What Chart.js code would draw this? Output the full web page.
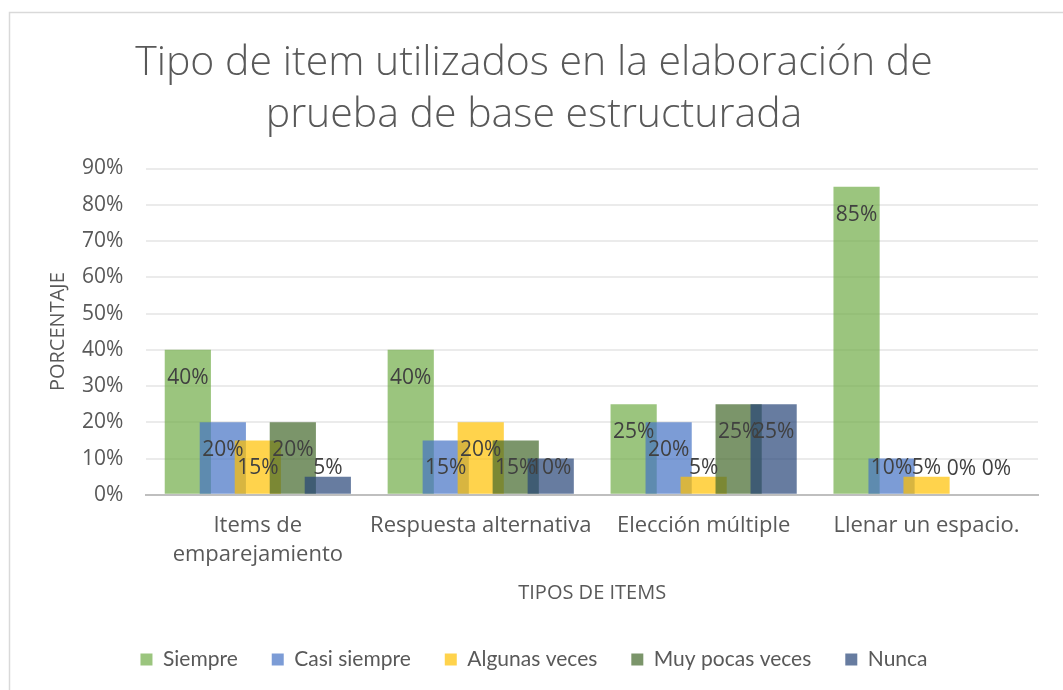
<!DOCTYPE html>
<html>
<head>
<meta charset="utf-8">
<script src="https://cdn.jsdelivr.net/npm/chart.js@4"></script>
<style>
  html, body { margin: 0; padding: 0; background: #fff; }
  #wrap { width: 1063px; height: 690px; position: relative; }
</style>
</head>
<body>
<div id="wrap"><canvas id="itemsChart"></canvas></div>
<script>
// Tipos de item (categorias del eje X)
const categories = [['Items de', 'emparejamiento'], 'Respuesta alternativa', 'Elección múltiple', 'Llenar un espacio.'];

// Porcentajes por frecuencia
const siempre = [0.40, 0.40, 0.25, 0.85];
const casiSiempre = [0.20, 0.15, 0.20, 0.10];
const algunasVeces = [0.15, 0.20, 0.05, 0.05];
const muyPocasVeces = [0.20, 0.15, 0.25, 0];
const nunca = [0.05, 0.10, 0.25, 0];

const yTicks = [0, 0.1, 0.2, 0.3, 0.4, 0.5, 0.6, 0.7, 0.8, 0.9];

const textGray = '#595959';
const pct = (v) => Math.round(v * 100) + '%';

// marco exterior del grafico (como en Excel)
const frame = {
    id: 'frame',
    beforeDraw(chart) {
        const c = chart.ctx;
        c.save();
        c.fillStyle = '#fff';
        c.fillRect(0, 0, chart.width, chart.height);
        c.strokeStyle = '#D9D9D9';
        c.lineWidth = 1.5;
        c.strokeRect(9.5, 12.5, chart.width + 20, chart.height + 20);
        c.restore();
    }
};

// barras solapadas: la serie siguiente se pinta encima (como Excel),
// luego las etiquetas de datos en el extremo interior
const overlapBars = {
    id: 'overlapBars',
    beforeDatasetsDraw(chart) {
        chart.data.datasets.forEach((ds, i) => chart.getDatasetMeta(i).controller.draw());

        const c = chart.ctx;
        c.save();
        c.font = '21px "Open Sans", sans-serif';
        c.fillStyle = '#404040';
        c.textAlign = 'center';
        c.textBaseline = 'middle';
        chart.data.datasets.forEach((ds, i) => {
            chart.getDatasetMeta(i).data.forEach((bar, j) => {
                const y = Math.min(bar.y + 28, bar.base - 26);
                c.fillText(pct(ds.data[j]), bar.x, y);
            });
        });
        c.restore();
        return false;
    }
};

new Chart(document.getElementById('itemsChart'), {
    type: 'bar',
    data: {
        labels: categories,
        datasets: [
            { label: 'Siempre', data: siempre, backgroundColor: 'rgba(112, 173, 71, 0.7)' },
            { label: 'Casi siempre', data: casiSiempre, backgroundColor: 'rgba(68, 114, 196, 0.7)' },
            { label: 'Algunas veces', data: algunasVeces, backgroundColor: 'rgba(255, 192, 0, 0.7)' },
            { label: 'Muy pocas veces', data: muyPocasVeces, backgroundColor: 'rgba(67, 104, 43, 0.7)' },
            { label: 'Nunca', data: nunca, backgroundColor: 'rgba(38, 68, 120, 0.7)' }
        ]
    },
    options: {
        responsive: true,
        maintainAspectRatio: false,
        animation: false,
        categoryPercentage: 0.785,
        barPercentage: 1.32,
        layout: { padding: { left: 30, right: 25, top: 0, bottom: 10 } },
        plugins: {
            title: {
                display: true,
                text: ['Tipo de item utilizados en la elaboración de', 'prueba de base estructurada'],
                color: textGray,
                font: { family: '"Open Sans", sans-serif', size: 41, weight: 300, lineHeight: 1.25 },
                padding: { top: 38, bottom: 28 }
            },
            legend: {
                position: 'bottom',
                labels: {
                    color: textGray,
                    font: { family: 'Lato, sans-serif', size: 21 },
                    boxWidth: 12,
                    boxHeight: 12,
                    padding: 34
                }
            },
            tooltip: { enabled: false }
        },
        scales: {
            x: {
                grid: { display: false },
                border: { color: '#BFBFBF', width: 2 },
                ticks: {
                    color: textGray,
                    font: { family: '"Open Sans", sans-serif', size: 22, lineHeight: 1.3 },
                    maxRotation: 0,
                    autoSkip: false,
                    padding: 9
                },
                title: {
                    display: true,
                    text: 'TIPOS DE ITEMS',
                    color: textGray,
                    font: { family: '"Open Sans", sans-serif', size: 20 },
                    padding: { top: 3, bottom: 10 }
                }
            },
            y: {
                min: 0,
                max: 0.9,
                afterBuildTicks: (axis) => { axis.ticks = yTicks.map(v => ({ value: v })); },
                grid: { color: '#EBEBEB', lineWidth: 2, drawTicks: false },
                border: { display: false },
                ticks: { color: textGray, font: { family: '"Open Sans", sans-serif', size: 21 }, padding: 23, callback: (v) => pct(v) },
                title: {
                    display: true,
                    text: 'PORCENTAJE',
                    color: textGray,
                    font: { family: '"Open Sans", sans-serif', size: 20 },
                    padding: { top: 16, bottom: -11 }
                }
            }
        }
    },
    plugins: [frame, overlapBars]
});
</script>
</body>
</html>
